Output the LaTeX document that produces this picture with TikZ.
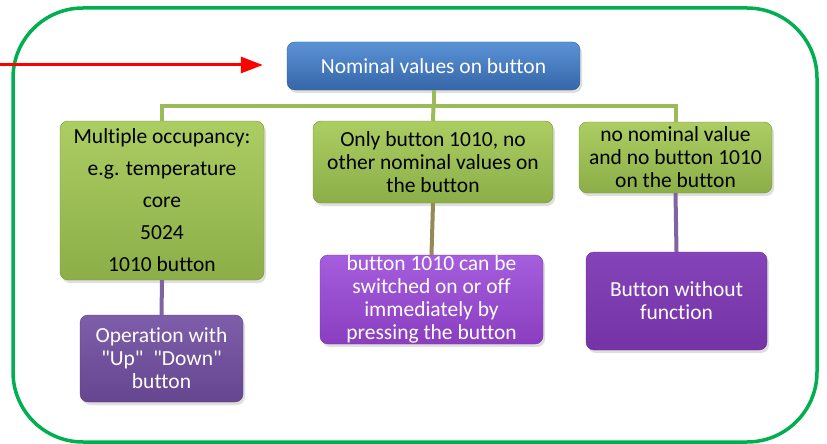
\documentclass[tikz,border=0pt]{standalone}
\usepackage{fontspec}
\setmainfont{Carlito}[Ligatures={TeXOff,CommonOff}]
\usetikzlibrary{shadows,arrows.meta}
\definecolor{frameg}{HTML}{00B050}
\definecolor{bluetop}{HTML}{5B93D6}
\definecolor{bluebot}{HTML}{3566A8}
\definecolor{gtop}{HTML}{ABCD62}
\definecolor{gbot}{HTML}{8CAE48}
\definecolor{gline}{HTML}{9BBB59}
\definecolor{oline}{HTML}{948A54}
\definecolor{pline}{HTML}{8064A2}
\definecolor{pAtop}{HTML}{7E5DAA}
\definecolor{pAbot}{HTML}{66468F}
\definecolor{pAdraw}{HTML}{5E4286}
\definecolor{pBtop}{HTML}{A55EDD}
\definecolor{pBbot}{HTML}{8A3EBF}
\definecolor{pBdraw}{HTML}{7A34AA}
\definecolor{pCtop}{HTML}{8443B8}
\definecolor{pCbot}{HTML}{7434A6}
\definecolor{pCdraw}{HTML}{682E96}
\tikzset{
  box/.style={rounded corners=8pt, align=center, inner xsep=2pt, inner ysep=-6pt,
    drop shadow={opacity=0.25, shadow xshift=2pt, shadow yshift=-3pt},
    font=\fontsize{21.5}{23}\selectfont},
  bluebox/.style={box, top color=bluetop, bottom color=bluebot, draw=bluebot!90!black, text=white},
  greenbox/.style={box, top color=gtop, bottom color=gbot, draw=gbot!85!black, text=black},
  purpA/.style={box, top color=pAtop, bottom color=pAbot, draw=pAdraw, text=white},
  purpB/.style={box, top color=pBtop, bottom color=pBbot, draw=pBdraw, text=white},
  purpC/.style={box, top color=pCtop, bottom color=pCbot, draw=pCdraw, text=white},
  conn/.style={line width=4pt},
}
\begin{document}
\begin{tikzpicture}[x=1pt,y=-1pt]
\useasboundingbox (0,0) rectangle (827,444);
\fill[white] (0,0) rectangle (827,444);
% outer frame
\draw[frameg, line width=3.5pt, rounded corners=70pt] (13,8) rectangle (817,442);

\coordinate (bar) at (0,106);

\node[bluebox, minimum width=293pt, minimum height=48pt] (top) at (433.5,66) {Nominal values on button};

\node[greenbox, minimum width=204pt, minimum height=159pt, font=\fontsize{21.5}{32}\selectfont] (g1) at (162,200.5)
  {Multiple occupancy:\\e.g. temperature\\core\\5024\\1010 button};
\node[greenbox, minimum width=240pt, minimum height=82pt] (g2) at (433,162)
  {Only button 1010, no\\other nominal values on\\the button};
\node[greenbox, minimum width=193pt, minimum height=71pt] (g3) at (675.5,157.5)
  {no nominal value\\and no button 1010\\on the button};

\node[purpA, minimum width=163pt, minimum height=87pt] (p1) at (161.5,358.5)
  {Operation with\\"Up"\ \ "Down"\\button};
\node[purpB, minimum width=223pt, minimum height=89pt] (p2) at (431.5,299.5)
  {button 1010 can be\\switched on or off\\immediately by\\pressing the button};
\node[purpC, minimum width=181pt, minimum height=98pt] (p3) at (676.5,301)
  {Button without\\function};

% connectors
\draw[conn, gline] (top.south) -- (top.south |- bar) -| (g1.north);
\draw[conn, gline] (top.south |- bar) -| (g3.north);
\draw[conn, gline] (top.south |- bar) -- (g2.north);
\draw[conn, pline] (g1.south) -- (p1.north);
\draw[conn, oline] (g2.south) -- (p2.north);
\draw[conn, pline] (g3.south) -- (p3.north);

% red arrow
\coordinate (arrowstart) at (0,65);
\coordinate (arrowend) at ([xshift=-24pt]top.west |- arrowstart);
\draw[red, line width=3pt, -{Triangle[length=22pt,width=16pt]}] (arrowstart) -- (arrowend);
\end{tikzpicture}
\end{document}
